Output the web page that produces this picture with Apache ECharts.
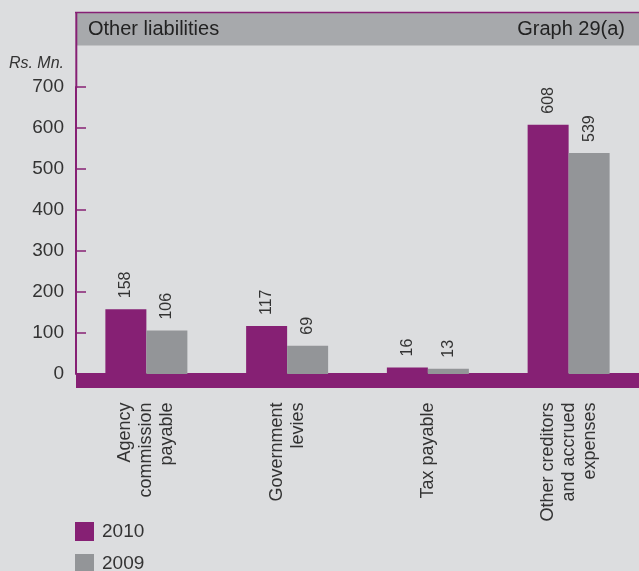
<!DOCTYPE html>
<html>
<head>
<meta charset="utf-8">
<script src="https://cdn.jsdelivr.net/npm/echarts@6/dist/echarts.min.js"></script>
<style>
  html, body { margin: 0; padding: 0; background: #dcdddf; }
  #chart { width: 639px; height: 571px; }
</style>
</head>
<body>
<div id="chart"></div>
<script>
// Other liabilities, Rs. Mn.
const categories = [
  'Agency\ncommission\npayable',
  'Government\nlevies',
  'Tax payable',
  'Other creditors\nand accrued\nexpenses'
];
const values2010 = [158, 117, 16, 608];
const values2009 = [106, 69, 13, 539];
const yTicks = { min: 0, max: 700, interval: 100 };

const PURPLE = '#862074';
const GREY = '#939598';
const HEADER = '#a7a9ac';
const TEXT = '#333333';
const FONT = '"Liberation Sans", Arial, sans-serif';

const chart = echarts.init(document.getElementById('chart'), null, { renderer: 'canvas' });

const valueLabel = {
  show: true,
  position: 'top',
  rotate: 90,
  align: 'left',
  verticalAlign: 'middle',
  distance: 11,
  fontSize: 16,
  fontFamily: FONT,
  color: TEXT
};

const legendCommon = {
  orient: 'vertical',
  left: 75,
  padding: 0,
  icon: 'rect',
  itemWidth: 19,
  itemHeight: 19,
  textStyle: { fontSize: 19, color: TEXT, fontFamily: FONT, padding: [0, 0, 0, 3] }
};

chart.setOption({
  backgroundColor: '#dcdddf',
  animation: false,
  textStyle: { fontFamily: FONT },
  graphic: [
    // header band with purple rule above and frame line on the left
    { type: 'rect', shape: { x: 76, y: 13, width: 563, height: 32.5 }, style: { fill: HEADER }, z: 0 },
    { type: 'line', shape: { x1: 75, y1: 12.5, x2: 639, y2: 12.5 }, style: { stroke: PURPLE, lineWidth: 1.5 }, z: 1 },
    { type: 'line', shape: { x1: 76.3, y1: 12, x2: 76.3, y2: 88 }, style: { stroke: PURPLE, lineWidth: 2 }, z: 1 }
  ],
  title: [
    { text: 'Other liabilities', left: 83, top: 14,
      textStyle: { fontSize: 20, fontWeight: 'normal', color: '#222', fontFamily: FONT } },
    { text: 'Graph 29(a)', right: 9, top: 14,
      textStyle: { fontSize: 20, fontWeight: 'normal', color: '#222', fontFamily: FONT } }
  ],
  legend: [
    Object.assign({}, legendCommon, { top: 522, data: ['2010'] }),
    Object.assign({}, legendCommon, { top: 554, data: ['2009'] })
  ],
  grid: { left: 76, right: -3, top: 87, bottom: 197, containLabel: false },
  xAxis: {
    type: 'category',
    data: categories,
    offset: 6.5,
    axisLine: { show: true, onZero: false, lineStyle: { color: PURPLE, width: 15, cap: 'butt' } },
    axisTick: { show: false },
    axisLabel: {
      interval: 0,
      rotate: 90,
      margin: 22,
      fontSize: 18,
      lineHeight: 21,
      color: TEXT,
      fontFamily: FONT
    },
    splitLine: { show: false }
  },
  yAxis: {
    type: 'value',
    min: yTicks.min,
    max: yTicks.max,
    interval: yTicks.interval,
    name: 'Rs. Mn.',
    nameLocation: 'end',
    nameGap: 15,
    nameTextStyle: { fontSize: 16, fontStyle: 'italic', color: TEXT, align: 'right', padding: [0, 12, 0, 0], fontFamily: FONT },
    axisLine: { show: true, lineStyle: { color: PURPLE, width: 2 } },
    axisTick: { show: true, inside: true, length: 10, lineStyle: { color: PURPLE, width: 1.5 } },
    axisLabel: { fontSize: 19, color: TEXT, margin: 12, fontFamily: FONT },
    splitLine: { show: false }
  },
  series: [
    { name: '2010', type: 'bar', data: values2010, barWidth: 41, barGap: '0%',
      itemStyle: { color: PURPLE }, label: valueLabel },
    { name: '2009', type: 'bar', data: values2009, barWidth: 41, barGap: '0%',
      itemStyle: { color: GREY }, label: valueLabel }
  ]
});
</script>
</body>
</html>
